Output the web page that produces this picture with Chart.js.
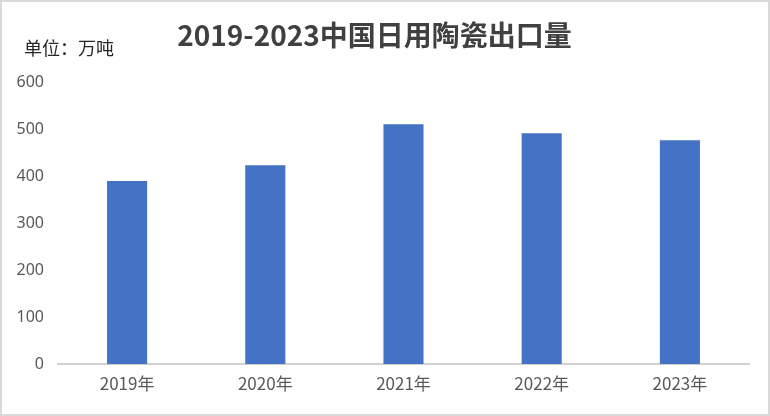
<!DOCTYPE html>
<html>
<head>
<meta charset="utf-8">
<script src="https://cdn.jsdelivr.net/npm/chart.js@4/dist/chart.umd.min.js"></script>
<style>
  body { margin: 0; background: #fff; }
  #wrap { position: relative; width: 770px; height: 416px; box-sizing: border-box; border: 2px solid #d9d9d9; }
  canvas { position: absolute; left: -2px; top: -2px; }
</style>
</head>
<body>
<div id="wrap"><canvas id="chart" width="770" height="416"></canvas></div>
<script>
let years = ["2019年", "2020年", "2021年", "2022年", "2023年"];
let exportVolume = [390, 424, 511, 492, 477];
let yTicks = [0, 100, 200, 300, 400, 500, 600];

let chartTitle = "2019-2023中国日用陶瓷出口量";
let unitLabel = "单位：万吨";

// unit text in the top left corner
const unitPlugin = {
    id: "unitLabel",
    afterDraw(chart) {
        const ctx = chart.ctx;
        ctx.save();
        ctx.font = '18px "Noto Sans CJK SC"';
        ctx.fillStyle = "#262626";
        ctx.textBaseline = "middle";
        ctx.fillText(unitLabel, 24, 48);
        ctx.restore();
    }
};

new Chart(document.getElementById("chart"), {
    type: "bar",
    data: {
        labels: years,
        datasets: [{
            data: exportVolume,
            backgroundColor: "#4472c4",
            categoryPercentage: 1,
            barPercentage: 0.29
        }]
    },
    options: {
        responsive: false,
        animation: false,
        layout: { padding: { left: 0, right: 21, top: 0, bottom: 0 } },
        plugins: {
            legend: { display: false },
            tooltip: { enabled: false },
            title: {
                display: true,
                text: chartTitle,
                color: "#404040",
                font: { family: '"Noto Sans CJK SC"', size: 28, weight: "bold" },
                padding: { top: 19, bottom: 30 }
            }
        },
        scales: {
            x: {
                grid: { display: false, drawTicks: false },
                border: { display: true, color: "#d0d0d0", width: 2 },
                ticks: {
                    color: "#595959",
                    font: { family: '"Noto Sans CJK SC"', size: 17 },
                    padding: 9
                },
                afterFit(scale) { scale.height = 52; }
            },
            y: {
                min: 0,
                max: 600,
                grid: { display: false, drawTicks: false },
                border: { display: false },
                afterBuildTicks(scale) { scale.ticks = yTicks.map(v => ({ value: v })); },
                ticks: {
                    color: "#595959",
                    font: { family: '"Noto Sans"', size: 16 },
                    padding: 14
                },
                afterFit(scale) { scale.width = 58; }
            }
        }
    },
    plugins: [unitPlugin]
});
</script>
</body>
</html>
